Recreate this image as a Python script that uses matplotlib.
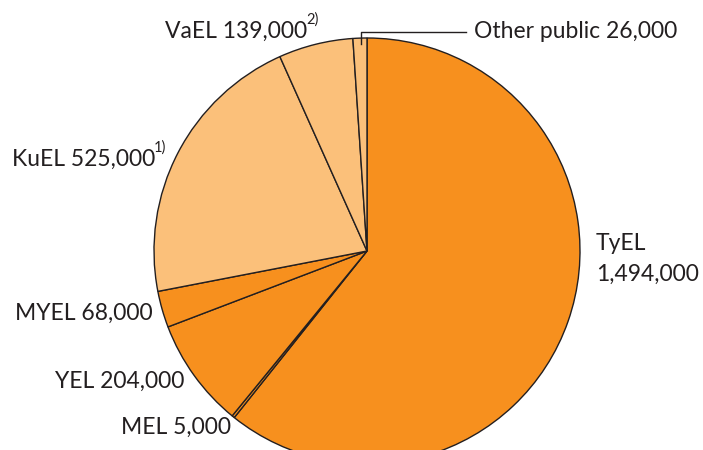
import matplotlib
matplotlib.use("Agg")
import matplotlib.pyplot as plt

labels = ["TyEL", "MEL", "YEL", "MYEL", "KuEL", "VaEL", "Other public"]
values = [1494000, 5000, 204000, 68000, 525000, 139000, 26000]
dark = "#F7901E"
light = "#FBC07A"
colors = [dark, dark, dark, dark, light, light, light]
txt = "#231F20"

W, H = 703, 450
fig = plt.figure(figsize=(W / 100, H / 100), dpi=100)
ax = fig.add_axes([0, 0, 1, 1])

cx, cy, r = 367, H - 251, 213
ax.pie(values, colors=colors, startangle=90, counterclock=False,
       center=(cx, cy), radius=r, frame=True,
       wedgeprops=dict(edgecolor=txt, linewidth=1.0))
ax.set_xlim(0, W)
ax.set_ylim(0, H)
ax.set_aspect("equal")
ax.axis("off")

fam = ["Lato", "DejaVu Sans"]
fs = 16.5

def t(x, y, s, ha="left", size=fs):
    ax.text(x, H - y, s, ha=ha, va="center", fontsize=size, color=txt, family=fam)

t(165, 31, "VaEL 139,000")
t(306, 20, "2)", size=10.5)
t(474, 31, "Other public 26,000")
ax.plot([361, 361, 466], [H - 44, H - 31.5, H - 31.5], color=txt, lw=1.0)
t(12, 159, "KuEL 525,000")
t(154, 148, "1)", size=10.5)
t(596, 243, "TyEL")
t(596, 274, "1,494,000")
t(153, 313, "MYEL 68,000", ha="right")
t(184, 381, "YEL 204,000", ha="right")
t(231, 427, "MEL 5,000", ha="right")

fig.savefig("out.png", dpi=100)
